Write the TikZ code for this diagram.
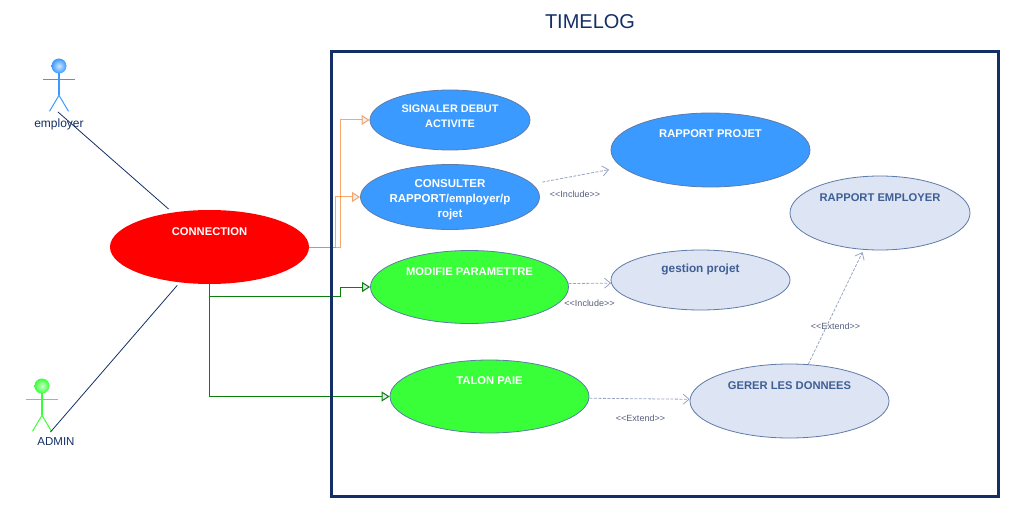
\documentclass[tikz,border=0pt]{standalone}
\usepackage{fontspec}
\setmainfont{Liberation Sans}
\usetikzlibrary{arrows.meta,shapes.geometric}

\definecolor{navyline}{HTML}{132F65}
\definecolor{ucblue}{HTML}{3A9AFF}
\definecolor{ucgreen}{HTML}{38FF38}
\definecolor{ucpale}{HTML}{DDE4F3}
\definecolor{ucline}{HTML}{5F7BA8}
\definecolor{uctext}{HTML}{3E5E96}
\definecolor{depline}{HTML}{98A4C2}
\definecolor{deptext}{HTML}{565F7E}
\definecolor{linkorange}{HTML}{F47A1E}
\definecolor{linkgreen}{HTML}{0A7F0A}
\definecolor{arrowfill}{HTML}{DDE4F0}

\tikzset{
  ucfont/.style={font=\fontsize{#1}{15}\selectfont\bfseries},
  usecase/.style={ellipse,draw=ucline,line width=.8pt,inner sep=0pt,align=center,ucfont=11.2},
  topline/.style={text height=9pt,text depth=#1},
  topline/.default=33pt,
  stereo/.style={text=deptext,font=\fontsize{9}{11}\selectfont},
  assoc/.style={draw=navyline,line width=.8pt},
  dep/.style={draw=depline,line width=.8pt,dashed,dash pattern=on 3pt off 1.5pt,
    -{Straight Barb[length=6pt,width=10pt]}},
  orangelink/.style={draw=linkorange,opacity=.65,line width=1pt,
    -{Triangle[open,length=8pt,width=10pt,fill=arrowfill]}},
  greenlink/.style={draw=linkgreen,line width=1pt,
    -{Triangle[open,length=8pt,width=10pt,fill=arrowfill]}},
  actor/.pic={
    \node[circle,minimum size=15pt,inner sep=0pt,shade,inner color=#1!25!white,outer color=#1] (-head) at (0,0) {};
    \draw[#1,line width=1pt] (-16,13.4) -- (16,13.4);
    \draw[#1,line width=1.6pt] (0,7) -- (0,29.3);
    \draw[#1,line width=1pt] (-9.5,45.3) -- (0,29.3) -- (9.5,45.3);
  }
}

\begin{document}
\begin{tikzpicture}[x=1pt,y=-1pt]
  \useasboundingbox (0,0) rectangle (1010,508);

  % system
  \node[text=navyline,font=\fontsize{20}{24}\selectfont] (title) at (590,22) {TIMELOG};

  % actors
  \pic (employer) at (59,66) {actor=ucblue};
  \pic (admin) at (42,386) {actor=ucgreen};
  \node[anchor=base,text=navyline,font=\fontsize{12}{14}\selectfont] (employerlabel) at (59,128) {employer};
  \node[anchor=base,text=navyline,font=\fontsize{11.5}{14}\selectfont] (adminlabel) at (56,445.5) {ADMIN};
  \coordinate (employerfoot) at (58,112);
  \coordinate (adminfoot) at (50.5,432);

  % use cases
  \node[usecase,draw=none,fill=red,text=white,minimum width=199pt,minimum height=74pt,topline] (connection) at (209.5,247) {CONNECTION};
  \node[usecase,ucfont=10.9,fill=ucblue,text=white,minimum width=160pt,minimum height=60pt,text height=23pt,text depth=7.4pt] (signaler) at (450,120) {SIGNALER DEBUT\\ACTIVITE};
  \node[usecase,ucfont=11.5,fill=ucblue,text=white,minimum width=179pt,minimum height=65pt,text height=40.6pt,text depth=0pt] (consulter) at (450,197) {CONSULTER\\RAPPORT/employer/p\\rojet};
  \node[usecase,fill=ucgreen,text=white,minimum width=198pt,minimum height=73pt,topline] (modifie) at (469.5,287) {MODIFIE PARAMETTRE};
  \node[usecase,fill=ucgreen,text=white,minimum width=199pt,minimum height=73pt,topline] (talon) at (489.5,396.5) {TALON PAIE};
  \node[usecase,fill=ucblue,text=white,minimum width=199pt,minimum height=74pt,topline] (rprojet) at (710.5,150) {RAPPORT PROJET};
  \node[usecase,fill=ucpale,text=uctext,minimum width=180pt,minimum height=74pt,topline] (remployer) at (880,213) {RAPPORT EMPLOYER};
  \node[usecase,ucfont=11.8,fill=ucpale,text=uctext,minimum width=179pt,minimum height=60pt,topline=24pt] (gestion) at (700.5,280) {gestion projet};
  \node[usecase,fill=ucpale,text=uctext,minimum width=199pt,minimum height=74pt,topline] (gerer) at (789.5,401) {GERER LES DONNEES};

  % links
  \draw[assoc,shorten >=5pt] (employerfoot) -- (connection.137);
  \draw[assoc,shorten >=3.5pt] (adminfoot) -- (connection.230);

  \draw[orangelink] (connection.east) -| (340,120) -- (signaler.west);
  \draw[orangelink] (connection.east) -| (335,197) -- (consulter.west);
  \draw[greenlink] (connection.south) |- (340,296) |- (modifie.west);
  \draw[greenlink] (connection.south) |- (talon.west);

  \draw[dep,shorten <=10pt,shorten >=13pt] (consulter.9) -- (rprojet.191);
  \draw[dep] (modifie.2) -- (gestion.182);
  \draw[dep] (talon.-1) -- (gerer.179);
  \draw[dep,shorten >=2.6pt] (gerer.63) -- (remployer.246);

  \node[stereo] (include1) at (575,194.5) {<{}<Include>{}>};
  \node[stereo] (include2) at (589.5,303.5) {<{}<Include>{}>};
  \node[stereo] (extend1) at (835.5,326.5) {<{}<Extend>{}>};
  \node[stereo] (extend2) at (640.5,418.5) {<{}<Extend>{}>};

  % frame
  \node[draw=navyline,line width=3pt,minimum width=667pt,minimum height=445pt,inner sep=0pt] (frame) at (665,274) {};
\end{tikzpicture}
\end{document}
